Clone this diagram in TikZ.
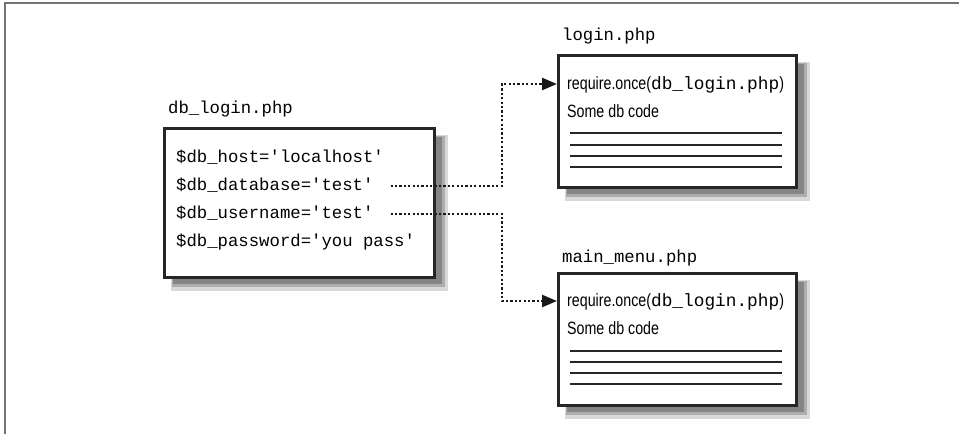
\documentclass[tikz,border=0pt]{standalone}
\usepackage{fontspec}
\usetikzlibrary{arrows.meta,calc}
\newfontfamily\codefont{Liberation Mono}
\newfontfamily\narrowfont{Liberation Sans}[FakeStretch=0.8]
\newcommand{\q}{\textquotesingle}
\tikzset{
  codetext/.style={font=\codefont\fontsize{17.3}{20}\selectfont, inner sep=0pt, anchor=base west},
  sanstext/.style={font=\narrowfont\fontsize{17.8}{20}\selectfont, inner sep=0pt, anchor=base west},
  filebox/.style={draw=black!85, line width=2.6pt, fill=white, anchor=north west, inner sep=0pt},
  shadowout/.style={fill=black!15},
  shadowmid/.style={fill=black!32},
  shadowin/.style={fill=black!48},
  rulebar/.style={line width=2.4pt, draw=black!85},
  link/.style={line width=2.5pt, dash pattern=on 2.2pt off 2.2pt, draw=black!90},
  tipped/.style={-{Triangle[length=15pt,width=12pt]}},
  frameline/.style={line width=2pt, draw=black!55}
}
\begin{document}
\begin{tikzpicture}[x=1pt,y=-1pt]
\useasboundingbox (0,0) rectangle (959,434);
\draw[frameline] (5,434) -- (5,3) -- (959,3);

% shadows
\fill[shadowout] (171,135) rectangle (448,291);
\fill[shadowmid] (172,136) rectangle (445,287);
\fill[shadowin] (173,137) rectangle (442,284);

\fill[shadowout] (565,62) rectangle (810,201);
\fill[shadowmid] (566,63) rectangle (807,197);
\fill[shadowin] (567,64) rectangle (804,194);

\fill[shadowout] (565,280) rectangle (810,419);
\fill[shadowmid] (566,281) rectangle (807,415);
\fill[shadowin] (567,282) rectangle (804,412);

% db_login box
\node[filebox, minimum width=270pt, minimum height=149pt] (db) at (163,127) {};
\node[codetext] (dblabel) at (168,113) {db\_login.php};
\node[codetext] (r1) at (176,162) {\$db\_host=\q localhost\q};
\node[codetext] (r2) at (176,190) {\$db\_database=\q test\q};
\node[codetext] (r3) at (176,218) {\$db\_username=\q test\q};
\node[codetext] (r4) at (176,246) {\$db\_password=\q you pass\q};

% login box
\node[filebox, minimum width=238pt, minimum height=132pt] (login) at (557,54) {};
\node[codetext] (loginlabel) at (562,40) {login.php};
\node[sanstext] (lreq) at (567,89) {require.once({\codefont db\_login.php})};
\node[sanstext] (lsome) at (567,117) {Some db code};
\draw[rulebar] (570,133) -- (782,133);
\draw[rulebar] (570,145) -- (782,145);
\draw[rulebar] (570,156) -- (782,156);
\draw[rulebar] (570,167) -- (782,167);

% main_menu box
\node[filebox, minimum width=238pt, minimum height=132pt] (menu) at (557,272) {};
\node[codetext] (menulabel) at (562,262) {main\_menu.php};
\node[sanstext] (mreq) at (567,306) {require.once({\codefont db\_login.php})};
\node[sanstext] (msome) at (567,334) {Some db code};
\draw[rulebar] (570,351) -- (782,351);
\draw[rulebar] (570,362) -- (782,362);
\draw[rulebar] (570,373) -- (782,373);
\draw[rulebar] (570,384) -- (782,384);

% connectors
\coordinate (c1) at ($(r2.base east)+(17,-4)$);
\coordinate (c2) at ($(r3.base east)+(17,-4)$);
\coordinate (k1) at (502,84);
\coordinate (k2) at (502,301);
\draw[link, tipped] (c1) -| (k1) -- (k1 -| login.west);
\draw[link, tipped] (c2) -| (k2) -- (k2 -| menu.west);
\end{tikzpicture}
\end{document}
